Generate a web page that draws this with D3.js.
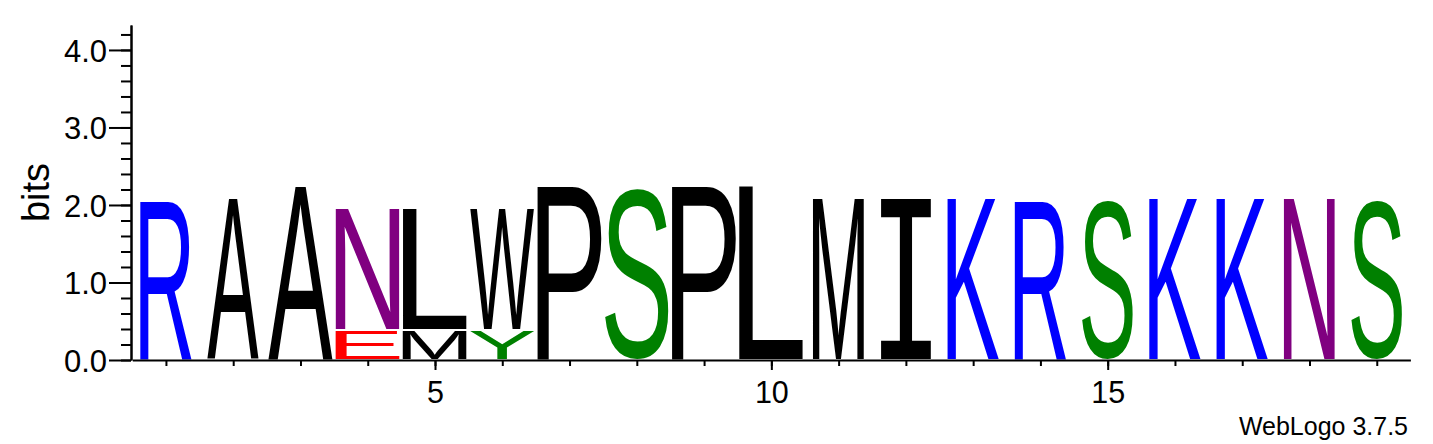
<!DOCTYPE html>
<html>
<head>
<meta charset="utf-8">
<script src="https://cdn.jsdelivr.net/npm/d3@7.9.0/dist/d3.min.js"></script>
<style>
  body { margin: 0; background: #fff; }
  svg { display: block; }
  .axis text { font-family: "Liberation Sans", Arial, sans-serif; fill: #000; }
  .axis path, .axis line { stroke: #000; stroke-width: 2; }
</style>
</head>
<body>
<svg id="chart" width="1433" height="444"></svg>
<script>
// Sequence positions
const positions = [1, 2, 3, 4, 5, 6, 7, 8, 9, 10, 11, 12, 13, 14, 15, 16, 17, 18, 19];
// Letter on top of each stack and its height (bits)
const topLetters = ['R', 'A', 'A', 'N', 'L', 'W', 'P', 'S', 'P', 'L', 'M', 'I', 'K', 'R', 'S', 'K', 'K', 'N', 'S'];
const topBits = [2.08, 2.08, 2.245, 1.566, 1.566, 1.566, 2.245, 2.245, 2.245, 2.245, 2.08, 2.08, 2.08, 2.08, 2.08, 2.08, 2.08, 2.08, 2.08];
// Smaller letter at the bottom of a stack ('' = none)
const lowLetters = ['', '', '', 'E', 'M', 'Y', '', '', '', '', '', '', '', '', '', '', '', '', ''];
const lowBits = [0, 0, 0, 0.387, 0.387, 0.387, 0, 0, 0, 0, 0, 0, 0, 0, 0, 0, 0, 0, 0];
// Stack width (fraction of sequences without gap)
const occupancy = [0.8, 0.8, 1, 1, 1, 1, 1, 1, 1, 1, 0.8, 0.8, 0.8, 0.8, 0.8, 0.8, 0.8, 0.8, 0.8];
// Tick labels
const xLabelTicks = [5, 10, 15];
const yMajorTicks = [0, 1, 2, 3, 4];
const yMinorTicks = [0, 0.2, 0.4, 0.6, 0.8, 1, 1.2, 1.4, 1.6, 1.8, 2, 2.2, 2.4, 2.6, 2.8, 3, 3.2, 3.4, 3.6, 3.8, 4, 4.2];

// chemistry colour scheme
const colors = {
  R: '#0000ff', K: '#0000ff', H: '#0000ff',
  D: '#ff0000', E: '#ff0000',
  N: '#800080', Q: '#800080',
  S: '#008000', T: '#008000', Y: '#008000', G: '#008000', C: '#008000'
};
const letterColor = (c) => colors[c] || '#000000';

const svg = d3.select('#chart');
const x = d3.scaleLinear().domain([0.5, 19.5]).range([132.3, 1410.4]);
const y = d3.scaleLinear().domain([0, Math.log2(20)]).range([360, 25]);
const step = x(2) - x(1);

// Measure glyph ink box so letters can be stretched to their cells
const ctx = document.createElement('canvas').getContext('2d');
function inkBox(ch, family) {
  ctx.font = `100px ${family}`;
  const m = ctx.measureText(ch);
  return { l: m.actualBoundingBoxLeft, r: m.actualBoundingBoxRight,
           a: m.actualBoundingBoxAscent, d: m.actualBoundingBoxDescent };
}
const fontFor = (ch) => ch === 'I' ? '"DejaVu Sans Mono"' : '"Liberation Sans"';

function drawLetter(g, ch, x0, x1, yTop, yBot) {
  const fam = fontFor(ch);
  const b = inkBox(ch, fam);
  const sx = (x1 - x0) / (b.l + b.r);
  const sy = (yBot - yTop) / (b.a + b.d);
  g.append('text')
    .attr('transform', `translate(${x0 + b.l * sx},${yBot - b.d * sy}) scale(${sx},${sy})`)
    .attr('font-family', fam.replace(/"/g, ''))
    .attr('font-size', 100)
    .attr('fill', letterColor(ch))
    .text(ch);
}

// Letter stacks
const gLogo = svg.append('g').attr('class', 'logo');
const pad = 0.7;
positions.forEach((p, i) => {
  const w = step * 0.96 * occupancy[i];
  const x0 = x(p) - w / 2, x1 = x(p) + w / 2;
  let base = 0;
  if (lowLetters[i]) {
    drawLetter(gLogo, lowLetters[i], x0, x1, y(lowBits[i]) + pad, y(0) - pad);
    base = lowBits[i];
  }
  drawLetter(gLogo, topLetters[i], x0, x1, y(base + topBits[i]) + pad, y(base) - pad);
});

// Y axis
svg.append('g').attr('class', 'axis')
  .attr('transform', 'translate(131,0)')
  .call(d3.axisLeft(y).tickValues(yMinorTicks).tickSize(10).tickSizeOuter(0).tickFormat(''));
const yAxis = svg.append('g').attr('class', 'axis')
  .attr('transform', 'translate(131,0)')
  .call(d3.axisLeft(y).tickValues(yMajorTicks).tickSize(22).tickSizeOuter(0).tickFormat(d3.format('.1f')));
yAxis.selectAll('text')
  .attr('x', -24).attr('dy', '0.37em')
  .style('font-size', '31px');

// X axis
svg.append('g').attr('class', 'axis')
  .attr('transform', 'translate(0,360)')
  .call(d3.axisBottom(x).tickValues(positions).tickSize(6).tickSizeOuter(0).tickFormat(''));
const xAxis = svg.append('g').attr('class', 'axis')
  .attr('transform', 'translate(0,360)')
  .call(d3.axisBottom(x).tickValues(xLabelTicks).tickSize(10).tickSizeOuter(0));
xAxis.select('.domain').remove();
xAxis.selectAll('text')
  .attr('y', 43).attr('dy', 0)
  .style('font-size', '30.5px');

// Axis title
svg.append('text')
  .attr('transform', `translate(49,${(y(0) + y(Math.log2(20))) / 2}) rotate(-90)`)
  .attr('text-anchor', 'middle')
  .attr('font-family', 'Liberation Sans, Arial, sans-serif')
  .attr('font-size', 38)
  .text('bits');

// Fine print
svg.append('text')
  .attr('x', 1408).attr('y', 435)
  .attr('text-anchor', 'end')
  .attr('font-family', 'Liberation Sans, Arial, sans-serif')
  .attr('font-size', 25)
  .text('WebLogo 3.7.5');
</script>
</body>
</html>
